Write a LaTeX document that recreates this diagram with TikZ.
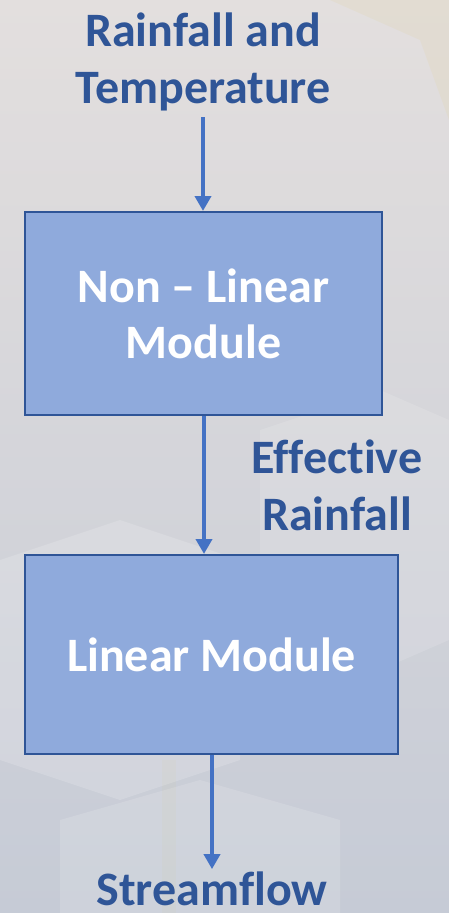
\documentclass[tikz,border=0pt]{standalone}
\usepackage{fontspec}
\setmainfont{Carlito}[RawFeature=-liga]
\usetikzlibrary{arrows.meta}
\definecolor{titleblue}{HTML}{2F5597}
\definecolor{arrowblue}{HTML}{4472C4}
\definecolor{boxfill}{HTML}{8FAADC}
\definecolor{boxline}{HTML}{2F5597}
\definecolor{bgtop}{HTML}{E3DFDE}
\definecolor{bgbottom}{HTML}{C6CBD6}
\tikzset{
  flowlabel/.style={text=titleblue, font=\fontsize{48}{57}\selectfont\bfseries, align=center, inner sep=0pt},
  modulebox/.style={draw=boxline, line width=2pt, fill=boxfill, text=white,
    font=\fontsize{48}{56}\selectfont\bfseries, align=center, inner sep=0pt},
  flowarrow/.style={draw=arrowblue, line width=4.5pt, -{Triangle[width=16pt,length=15pt]}}
}
\begin{document}
\begin{tikzpicture}[x=1pt,y=-1pt]
  % backdrop
  \useasboundingbox (0,0) rectangle (449,913);
  \shade[top color=bgtop, bottom color=bgbottom] (0,0) rectangle (449,913);
  \fill[white, opacity=0.16] (0,560) -- (120,520) -- (240,560) -- (240,760) -- (120,800) -- (0,760) -- cycle;
  \fill[white, opacity=0.13] (260,430) -- (380,390) -- (449,420) -- (449,640) -- (380,670) -- (260,630) -- cycle;
  \fill[white, opacity=0.14] (60,820) -- (200,780) -- (340,820) -- (340,913) -- (60,913) -- cycle;
  \fill[yellow!50!brown, opacity=0.07] (330,0) -- (449,0) -- (449,120) -- (420,40) -- cycle;
  \fill[yellow!50!brown, opacity=0.04] (162,760) rectangle (176,913);

  % nodes
  \node[flowlabel] (input) at (203,62) {Rainfall and\\Temperature};
  \node[modulebox, minimum width=357pt, minimum height=203pt] (nonlin) at (203.5,313.5) {Non -- Linear\\Module};
  \node[flowlabel] (eff) at (337,485) {Effective\\Rainfall};
  \node[modulebox, minimum width=373pt, minimum height=199pt] (lin) at (211.5,654.5) {Linear Module};
  \node[flowlabel, anchor=base, text depth=0pt] (out) at (212,905) {Streamflow};

  % connectors
  \coordinate (a1) at (203,117);
  \draw[flowarrow] (a1) -- (nonlin.north -| a1);
  \coordinate (a2) at (204,415);
  \draw[flowarrow] (nonlin.south -| a2) -- (lin.north -| a2);
  \coordinate (a3) at (212,754);
  \draw[flowarrow, shorten >=2pt] (lin.south -| a3) -- (out.north -| a3);
\end{tikzpicture}
\end{document}
